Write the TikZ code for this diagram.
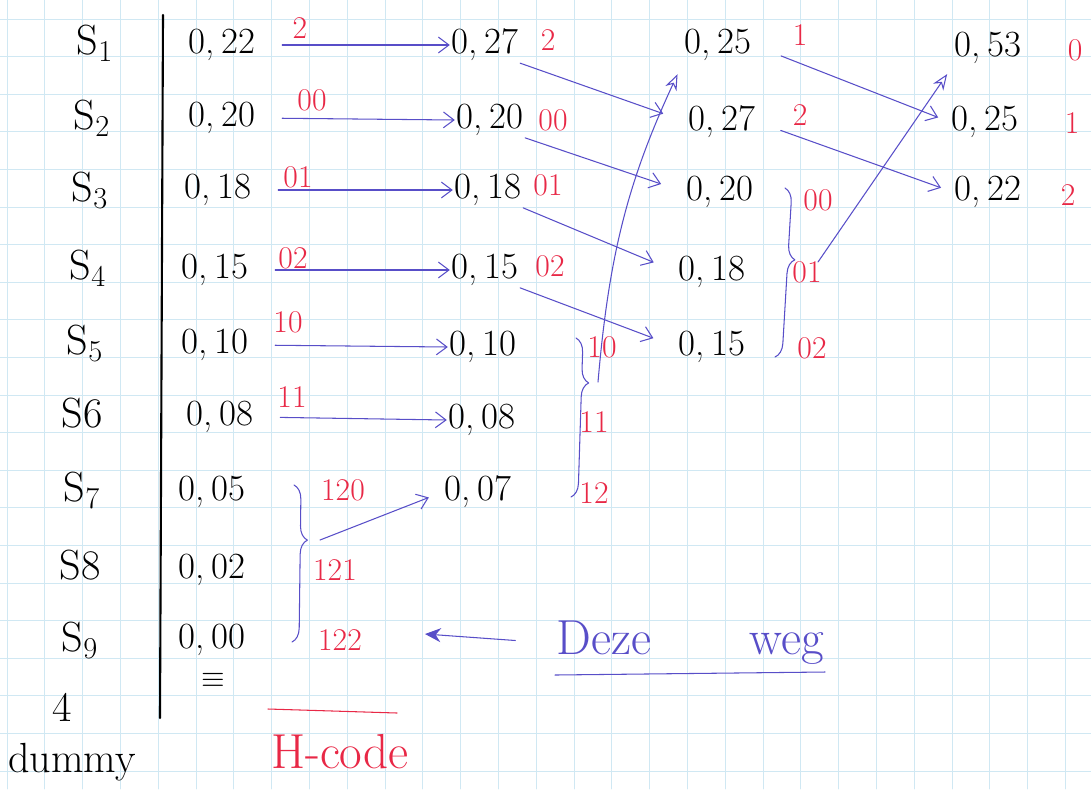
\documentclass[tikz,border=0pt]{standalone}
\usepackage{tikz}
\usetikzlibrary{arrows.meta,decorations.pathreplacing}
\definecolor{inkblauw}{RGB}{88,78,200}
\definecolor{inkrood}{RGB}{232,40,70}
\definecolor{ruit}{RGB}{208,232,243}

\begin{document}
\begin{tikzpicture}[x=0.02cm, y=-0.02cm, line join=round, line cap=round,
	sym/.style={font=\fontsize{24}{28}\selectfont, inner sep=1pt},
	val/.style={font=\fontsize{21}{25}\selectfont, inner sep=1pt},
	code/.style={text=inkrood, font=\fontsize{18}{22}\selectfont, inner sep=1pt},
	pijl/.style={inkblauw, semithick, -{Straight Barb[length=6pt,width=9pt]}},
	haak/.style={inkblauw, semithick, decorate, decoration={brace, amplitude=8pt, aspect=#1}}]
	
	% --- 1. ruitjespapier ---
	\useasboundingbox (0,0) rectangle (1091,789);
	\foreach \k in {0,...,28} {\draw[ruit, thin] ({7+37.8*\k},0) -- ({7+37.8*\k},789);}
	\foreach \k in {0,...,20} {\draw[ruit, thin] (0,{19+37.6*\k}) -- (1091,{19+37.6*\k});}
	
	% --- 2. symbolen ---
	\node[sym] (S1) at (95,43) {S$_1$};
	\node[sym] (S2) at (92,118) {S$_2$};
	\node[sym] (S3) at (90,190) {S$_3$};
	\node[sym] (S4) at (88,268) {S$_4$};
	\node[sym] (S5) at (85,343) {S$_5$};
	\node[sym] (S6) at (82,413) {S6};
	\node[sym] (S7) at (82,490) {S$_7$};
	\node[sym] (S8) at (80,565) {S8};
	\node[sym] (S9) at (80,640) {S$_9$};
	\node[sym] (S10) at (62,707) {4};
	\node[sym] (dummy) at (72,762) {dummy};
	\draw[very thick] (163,15) -- (160,718);
	
	% --- 3. eerste kolom ---
	\node[val] (A1) at (222,45) {0,\,22};
	\node[val] (A2) at (222,118) {0,\,20};
	\node[val] (A3) at (218,190) {0,\,18};
	\node[val] (A4) at (215,270) {0,\,15};
	\node[val] (A5) at (215,345) {0,\,10};
	\node[val] (A6) at (220,417) {0,\,08};
	\node[val] (A7) at (212,492) {0,\,05};
	\node[val] (A8) at (212,570) {0,\,02};
	\node[val] (A9) at (212,640) {0,\,00};
	\node[font=\LARGE] (A10) at (213,680) {$\equiv$};
	
	\node[code] (a1) at (300,28) {2};
	\node[code] (a2) at (312,100) {00};
	\node[code] (a3) at (298,177) {01};
	\node[code] (a4) at (293,258) {02};
	\node[code] (a5) at (288,322) {10};
	\node[code] (a6) at (292,397) {11};
	\node[code] (a7) at (343,490) {120};
	\node[code] (a8) at (335,570) {121};
	\node[code] (a9) at (340,640) {122};
	\draw[haak=0.35] (294,485) -- (292,642);
	\coordinate (H1) at (320,540);
	
	% --- 4. tweede kolom ---
	\node[val] (B1) at (485,45) {0,\,27};
	\node[val] (B2) at (490,120) {0,\,20};
	\node[val] (B3) at (488,190) {0,\,18};
	\node[val] (B4) at (485,270) {0,\,15};
	\node[val] (B5) at (483,347) {0,\,10};
	\node[val] (B6) at (482,420) {0,\,08};
	\node[val] (B7) at (478,492) {0,\,07};
	
	\node[code] (b1) at (548,40) {2};
	\node[code] (b2) at (553,120) {00};
	\node[code] (b3) at (548,185) {01};
	\node[code] (b4) at (550,266) {02};
	\node[code] (b5) at (602,347) {10};
	\node[code] (b6) at (594,422) {11};
	\node[code] (b7) at (594,493) {12};
	\draw[haak=0.28] (576,338) -- (571,497);
	\coordinate (H2) at (598,382);
	
	% --- 5. derde kolom ---
	\node[val] (C1) at (718,45) {0,\,25};
	\node[val] (C2) at (722,122) {0,\,27};
	\node[val] (C3) at (720,192) {0,\,20};
	\node[val] (C4) at (712,272) {0,\,18};
	\node[val] (C5) at (712,347) {0,\,15};
	
	\node[code] (c1) at (800,35) {1};
	\node[code] (c2) at (800,115) {2};
	\node[code] (c3) at (818,200) {00};
	\node[code] (c4) at (807,272) {01};
	\node[code] (c5) at (812,348) {02};
	\draw[haak=0.42] (785,188) -- (775,357);
	\coordinate (H3) at (818,262);
	
	% --- 6. vierde kolom ---
	\node[val] (D1) at (988,48) {0,\,53};
	\node[val] (D2) at (985,122) {0,\,25};
	\node[val] (D3) at (988,192) {0,\,22};
	
	\node[code] (d1) at (1075,50) {0};
	\node[code] (d2) at (1072,123) {1};
	\node[code] (d3) at (1068,195) {2};
	
	% --- 7. pijlen ---
	\draw[pijl, shorten <=0.5cm] (A1.east) -- (B1.west);
	\draw[pijl, shorten <=0.5cm] (A2.east) -- (B2.west);
	\draw[pijl, shorten <=0.5cm] (A3.east) -- (B3.west);
	\draw[pijl, shorten <=0.5cm] (A4.east) -- (B4.west);
	\draw[pijl, shorten <=0.5cm] (A5.east) -- (B5.west);
	\draw[pijl, shorten <=0.5cm] (A6.east) -- (B6.west);
	\draw[pijl, shorten >=0.3cm] (H1) -- (B7.west);
	
	\draw[pijl, shorten >=0.5cm] (B1.south east) -- (C2.west);
	\draw[pijl, shorten >=0.5cm] (B2.south east) -- (C3.west);
	\draw[pijl, shorten >=0.5cm] (B3.south east) -- (C4.west);
	\draw[pijl, shorten >=0.5cm] (B4.south east) -- (C5.west);
	\draw[inkblauw, semithick, -{Stealth[open, length=9pt, width=7pt]}, shorten >=0.25cm] (H2) to[bend left=10] (C1.south west);
	
	\draw[pijl, shorten <=0.6cm, shorten >=0.25cm] (C1.east) -- (D2.west);
	\draw[pijl, shorten <=0.5cm, shorten >=0.25cm] (C2.east) -- (D3.west);
	\draw[inkblauw, semithick, -{Stealth[open, length=9pt, width=7pt]}, shorten >=0.2cm] (H3) -- (D1.south west);
	
	% --- 8. onderaan ---
	\draw[inkrood, semithick] (268,709) -- (397,713);
	\node[text=inkrood, font=\fontsize{28}{32}\selectfont] (hcode) at (340,752) {H-code};
	\node[text=inkblauw, font=\fontsize{28}{32}\selectfont] (deze) at (690,643) {Deze\qquad weg};
	\draw[inkblauw, semithick] (555,675) -- (825,672);
	\coordinate (P) at (425,634);
	\draw[inkblauw, semithick, -{Stealth[length=9pt, width=8pt]}, shorten <=0.7cm] (deze.west) -- (P);
	
\end{tikzpicture}
\end{document}
